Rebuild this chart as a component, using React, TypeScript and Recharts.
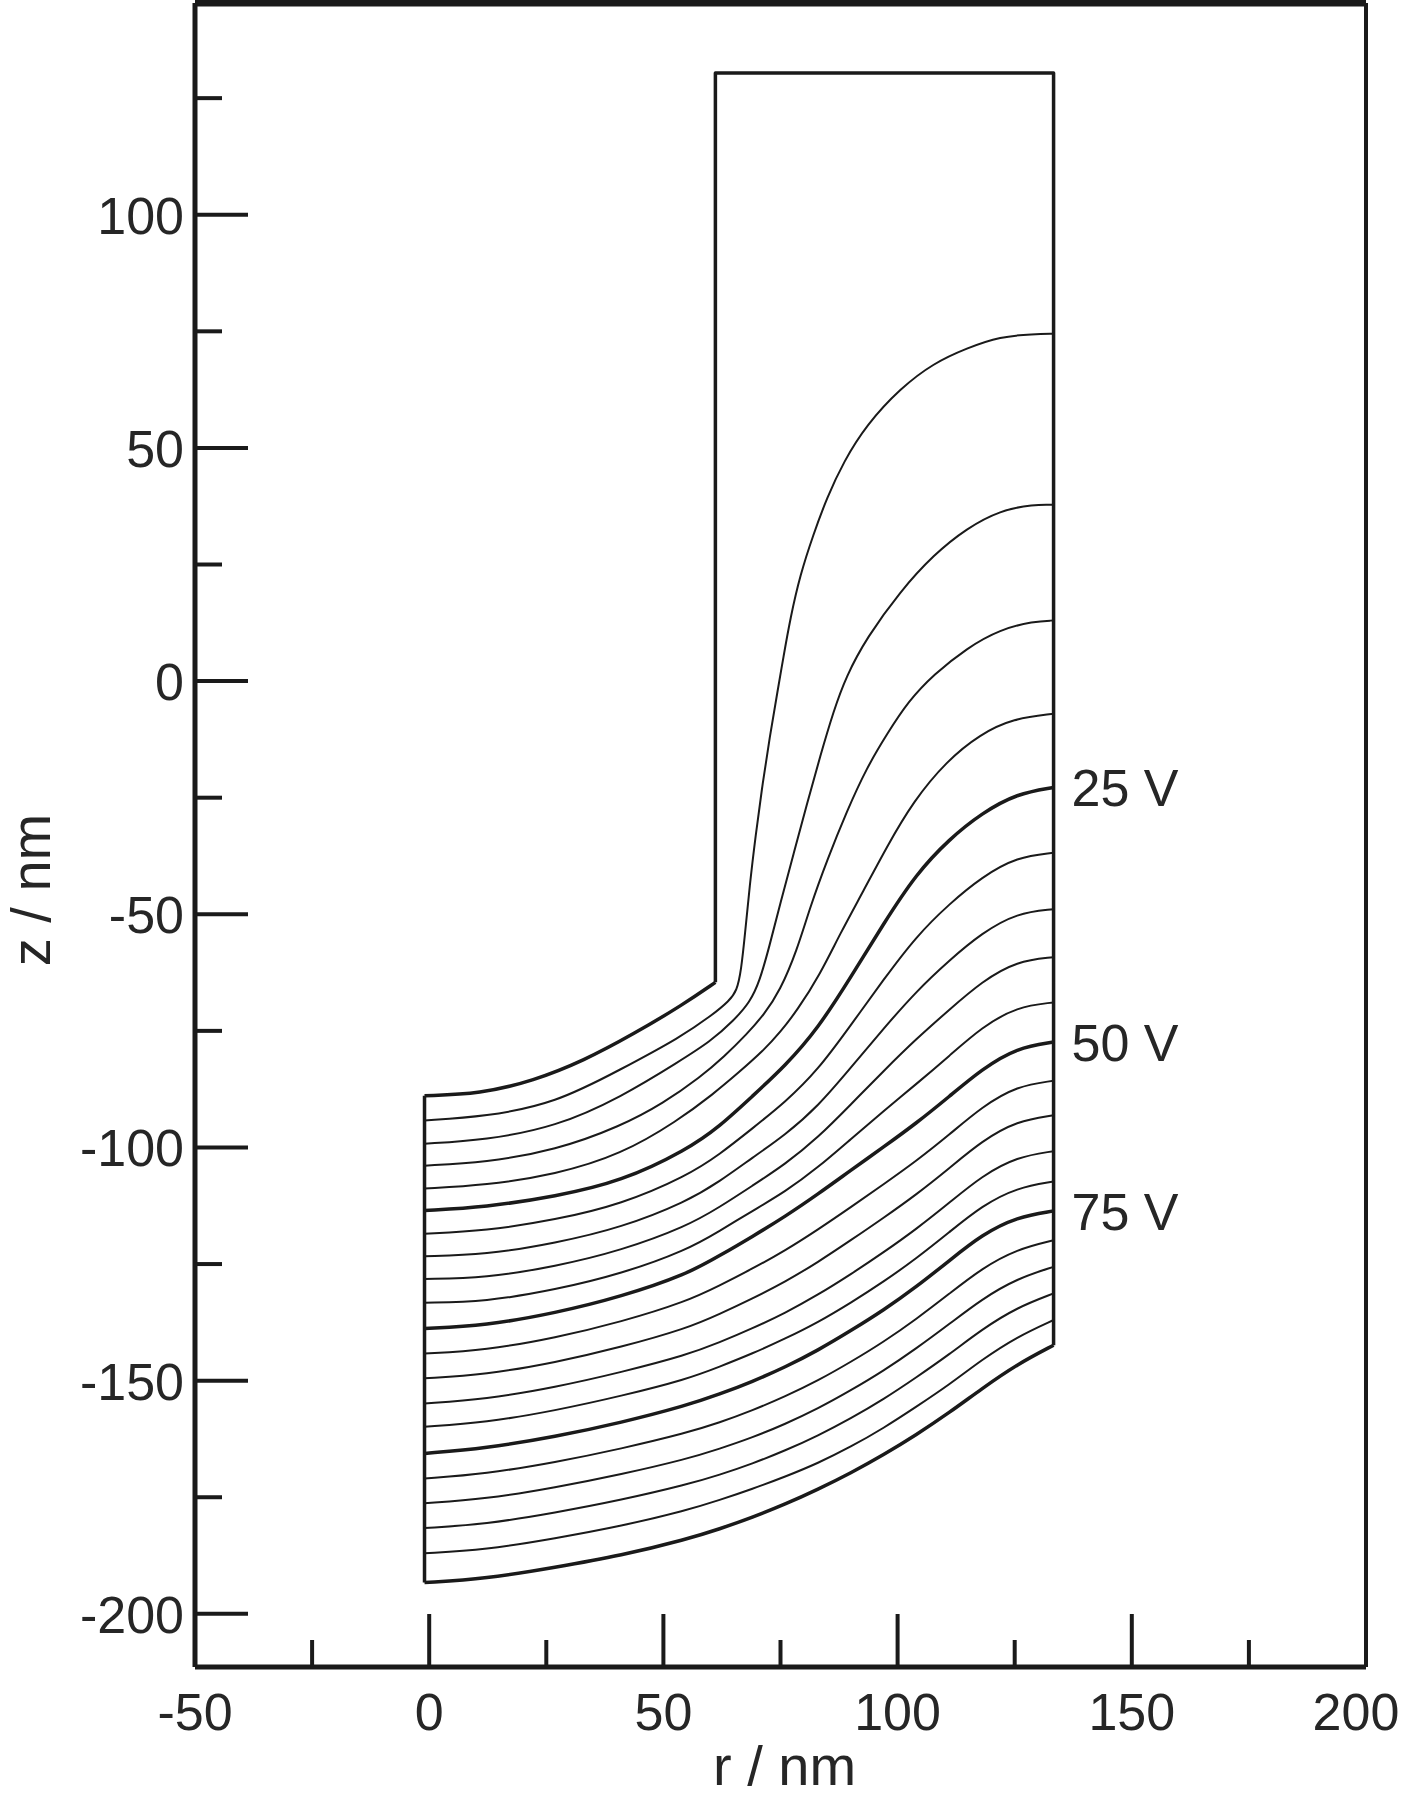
import React from 'react';
import { LineChart, Line, XAxis, YAxis, ReferenceLine, LabelList } from 'recharts';

// ---- axes ----
const rTicks = [-50, -25, 0, 25, 50, 75, 100, 125, 150, 175, 200];
const zTicks = [-200, -175, -150, -125, -100, -75, -50, -25, 0, 25, 50, 75, 100, 125];
const rDomain = [-50, 200];
const zDomain = [-211.4, 145.4];

// ---- geometry ----
const electrode = [[61.1, -64.6], [61.1, 130.4], [133.3, 130.4], [133.3, -142.4]];
const leftWall = [[-1, -88.9], [-1, -193.3]];

// ---- equipotential lines (r, z) ----
const v0 = [[-1, -88.9], [10.9, -88.5], [22.3, -85.7], [33, -81.4], [43.6, -75.7], [54.3, -69.3], [61.1, -64.6]];
const v5 = [[-1, -94.2], [12, -93.4], [27, -90.5], [41, -83.2], [53.6, -76.4], [60.7, -71.4], [64, -68.6], [65.7, -66.4], [66.6, -62], [67.4, -54.5], [68.4, -44], [69.7, -33], [71.1, -22.5], [72.7, -12], [74.4, -2], [75.6, 5], [77.1, 13.5], [79.2, 22.8], [82, 31.4], [84.9, 39.3], [88.5, 47.1], [93.4, 55], [100.6, 62.8], [107.7, 68.2], [114.8, 71.4], [121.9, 73.9], [129, 74.4], [133.3, 74.5]];
const v10 = [[-1, -99.2], [12, -98.4], [27, -95.6], [41, -89.2], [53.6, -81.4], [60, -77.3], [65, -72.8], [68.5, -68.8], [70.5, -64.5], [72.6, -57], [75, -47.5], [77.8, -37], [80.6, -26.5], [83.5, -16], [86.3, -6.5], [89, 1], [93.4, 9.3], [100.6, 19.3], [107.7, 27.1], [114.8, 32.8], [121.9, 36.6], [129, 37.9], [133.3, 37.8]];
const v15 = [[-1, -103.9], [12, -103.2], [27, -100.6], [41, -95.4], [50, -90.5], [57.9, -84.9], [63, -80.5], [67.8, -75.7], [71.5, -71.5], [74.9, -66.4], [78.5, -57.8], [81.3, -48.5], [84.9, -38.5], [89.2, -27.8], [93.4, -18.6], [97.7, -11.4], [102.3, -4.3], [107.7, 1.4], [114.8, 7.1], [121.9, 11.1], [129, 12.8], [133.3, 13.0]];
const v20 = [[-1, -108.8], [12, -108.1], [27, -105.8], [41, -101.5], [53, -94.3], [60.7, -88.5], [66, -84], [71.4, -79.2], [75, -75.2], [78.5, -70.7], [83.5, -62.8], [87.7, -54.2], [92.7, -45], [97.7, -35.5], [103.4, -25.7], [110.5, -17.1], [117.6, -11.4], [124.7, -8], [133.3, -7]];

const rGrid = [-1, 12, 27, 41, 55, 62, 69, 76, 83, 90, 97, 104, 111, 118, 125.5, 133.3];
const v25 = [-113.5, -112.8, -110.5, -107.3, -100.5, -95.5, -89, -82.5, -74.5, -63.5, -52, -41.3, -33.9, -28.3, -24.1, -22.8];
const v30 = [-118.5, -117.9, -115.5, -112.2, -106.1, -101.5, -95.9, -90.3, -83.4, -73.8, -64.0, -54.7, -47.8, -42.0, -37.7, -36.8];
const v35 = [-123.3, -123.0, -120.5, -117.2, -111.6, -107.3, -102.2, -97.3, -91.2, -82.9, -74.5, -66.5, -59.9, -54.0, -49.7, -48.9];
const v40 = [-128.2, -128.0, -125.5, -122.1, -116.9, -112.8, -108.2, -103.6, -97.9, -90.8, -83.6, -76.7, -70.5, -64.4, -60.0, -59.2];
const v45 = [-133.3, -133.1, -130.5, -127.1, -122.0, -117.9, -113.6, -109.5, -104.3, -98.2, -92.2, -86.4, -80.4, -74.2, -69.8, -68.9];
const v50 = [-138.8, -138.2, -135.5, -132, -127.2, -123.2, -119.1, -114.8, -110, -104.9, -99.9, -94.8, -89.1, -83.2, -78.6, -77.4];
const v55 = [-144.2, -143.5, -140.8, -137.4, -133.0, -129.6, -126.0, -122.1, -117.6, -112.8, -107.9, -102.9, -97.3, -91.3, -86.8, -85.7];
const v60 = [-149.5, -148.7, -146.1, -142.8, -138.8, -135.7, -132.4, -128.8, -124.6, -119.9, -115.1, -110.1, -104.5, -98.6, -94.3, -93.1];
const v65 = [-154.9, -154.0, -151.4, -148.2, -144.5, -141.8, -138.8, -135.5, -131.6, -127.2, -122.5, -117.5, -111.9, -106.1, -102.0, -100.8];
const v70 = [-159.9, -159.0, -156.4, -153.3, -149.7, -147.0, -144.2, -141.0, -137.5, -133.3, -128.8, -123.8, -118.2, -112.5, -108.6, -107.3];
const v75 = [-165.6, -164.5, -162, -159, -155.3, -152.9, -150.2, -147.1, -143.5, -139.3, -134.9, -129.9, -124.3, -118.7, -114.9, -113.6];
const v80 = [-171, -170.0, -167.5, -164.6, -161.2, -159.0, -156.4, -153.4, -150.0, -146.0, -141.7, -136.8, -131.4, -125.9, -121.8, -119.9];
const v85 = [-176.3, -175.4, -172.9, -170.1, -166.8, -164.6, -162.2, -159.3, -156.0, -152.1, -147.9, -143.1, -137.9, -132.5, -128.1, -125.6];
const v90 = [-181.6, -180.8, -178.3, -175.6, -172.3, -170.2, -167.8, -165.0, -161.8, -158.1, -154.0, -149.3, -144.4, -139.0, -134.3, -131.3];
const v95 = [-187, -186.3, -183.8, -181.2, -177.8, -175.6, -173.2, -170.6, -167.7, -164.2, -160.2, -155.6, -150.9, -145.5, -140.6, -137.0];
const v100 = [-193.3, -192.5, -190, -187.5, -184, -181.8, -179.3, -176.5, -173.3, -169.8, -165.9, -161.6, -156.9, -151.7, -146.5, -142.4];

const lineLabels = ['25 V', '50 V', '75 V'];

const fromPairs = (p: number[][]) => p.map(([r, z]) => ({ r, z }));
const fromGrid = (zs: number[]) => rGrid.map((r, i) => ({ r, z: zs[i] }));

const FONT = '"Liberation Sans", Arial, Helvetica, sans-serif';
const INK = '#1a1a1a';
const TXT = '#262626';
const CHART_W = 1402;

type Series = { key: string; data: { r: number; z: number }[]; w: number; label?: string; linear?: boolean };

const series: Series[] = [
  { key: 'electrode', data: fromPairs(electrode), w: 3.5, linear: true },
  { key: 'wall', data: fromPairs(leftWall), w: 3.5, linear: true },
  { key: 'v0', data: fromPairs(v0), w: 3.5 },
  { key: 'v5', data: fromPairs(v5), w: 2 },
  { key: 'v10', data: fromPairs(v10), w: 2 },
  { key: 'v15', data: fromPairs(v15), w: 2 },
  { key: 'v20', data: fromPairs(v20), w: 2 },
  { key: 'v25', data: fromGrid(v25), w: 3.5, label: lineLabels[0] },
  { key: 'v30', data: fromGrid(v30), w: 2 },
  { key: 'v35', data: fromGrid(v35), w: 2 },
  { key: 'v40', data: fromGrid(v40), w: 2 },
  { key: 'v45', data: fromGrid(v45), w: 2 },
  { key: 'v50', data: fromGrid(v50), w: 3.5, label: lineLabels[1] },
  { key: 'v55', data: fromGrid(v55), w: 2 },
  { key: 'v60', data: fromGrid(v60), w: 2 },
  { key: 'v65', data: fromGrid(v65), w: 2 },
  { key: 'v70', data: fromGrid(v70), w: 2 },
  { key: 'v75', data: fromGrid(v75), w: 3.5, label: lineLabels[2] },
  { key: 'v80', data: fromGrid(v80), w: 2 },
  { key: 'v85', data: fromGrid(v85), w: 2 },
  { key: 'v90', data: fromGrid(v90), w: 2 },
  { key: 'v95', data: fromGrid(v95), w: 2 },
  { key: 'v100', data: fromGrid(v100), w: 3.5 },
];

const XTick = (props: any) => {
  const { x, y, payload } = props;
  const v = payload.value;
  const major = v % 50 === 0;
  // keep the label inside the picture (half width of a 3-digit label is ~44 px)
  const tx = Math.min(x, CHART_W - 46);
  return (
    <g>
      <line x1={x} y1={y} x2={x} y2={y - (major ? 53 : 27)} stroke={INK} strokeWidth={4} />
      {major && (
        <text x={tx} y={y + 63} textAnchor="middle" fontSize={52} fontFamily={FONT} fill={TXT}>
          {v}
        </text>
      )}
    </g>
  );
};

const YTick = (props: any) => {
  const { x, y, payload } = props;
  const v = payload.value;
  const major = v % 50 === 0;
  return (
    <g>
      <line x1={x} y1={y} x2={x + (major ? 53 : 27)} y2={y} stroke={INK} strokeWidth={4} />
      {major && (
        <text x={x - 11} y={y + 19} textAnchor="end" fontSize={52} fontFamily={FONT} fill={TXT}>
          {v}
        </text>
      )}
    </g>
  );
};

const XTitle = (props: any) => {
  const vb = props.viewBox || {};
  const cx = vb.x + vb.width / 2 + 4;
  return (
    <text x={cx} y={vb.y + 118} textAnchor="middle" fontSize={56} fontFamily={FONT} fill={TXT}>
      r / nm
    </text>
  );
};

const YTitle = (props: any) => {
  const vb = props.viewBox || {};
  const cx = vb.x + 5;
  const cy = vb.y + vb.height / 2 + 55;
  return (
    <text x={cx} y={cy} transform={`rotate(-90, ${cx}, ${cy})`} textAnchor="middle" fontSize={56} fontFamily={FONT} fill={TXT}>
      z / nm
    </text>
  );
};

export default function App() {
  return (
    <div style={{ position: 'absolute', left: 0, top: 0, width: CHART_W, height: 1800, background: '#fff' }}>
      <LineChart width={CHART_W} height={1800} margin={{ top: 3, right: 36, bottom: 0, left: 45 }}>
        <XAxis
          dataKey="r"
          type="number"
          domain={rDomain}
          ticks={rTicks}
          interval={0}
          allowDataOverflow
          height={133}
          tickSize={0}
          tickMargin={0}
          tick={<XTick />}
          axisLine={{ stroke: INK, strokeWidth: 5 }}
          label={<XTitle />}
        />
        <YAxis
          dataKey="z"
          type="number"
          domain={zDomain}
          ticks={zTicks}
          interval={0}
          allowDataOverflow
          width={150}
          tickSize={0}
          tickMargin={0}
          tick={<YTick />}
          axisLine={{ stroke: INK, strokeWidth: 5 }}
          label={<YTitle />}
        />
        <ReferenceLine y={zDomain[1]} stroke={INK} strokeWidth={7} />
        <ReferenceLine x={rDomain[1]} stroke={INK} strokeWidth={4} />
        {series.map((s) => (
          <Line
            key={s.key}
            data={s.data}
            dataKey="z"
            type={s.linear ? 'linear' : 'basis'}
            stroke={INK}
            strokeWidth={s.w}
            dot={false}
            activeDot={false}
            isAnimationActive={false}
            strokeLinejoin="round"
          >
            {s.label ? (
              <LabelList
                dataKey="z"
                content={(p: any) =>
                  p.index === s.data.length - 1 ? (
                    <text x={p.x + 18} y={p.y + 19} fontSize={52} fontFamily={FONT} fill={TXT}>
                      {s.label}
                    </text>
                  ) : null
                }
              />
            ) : null}
          </Line>
        ))}
      </LineChart>
    </div>
  );
}
